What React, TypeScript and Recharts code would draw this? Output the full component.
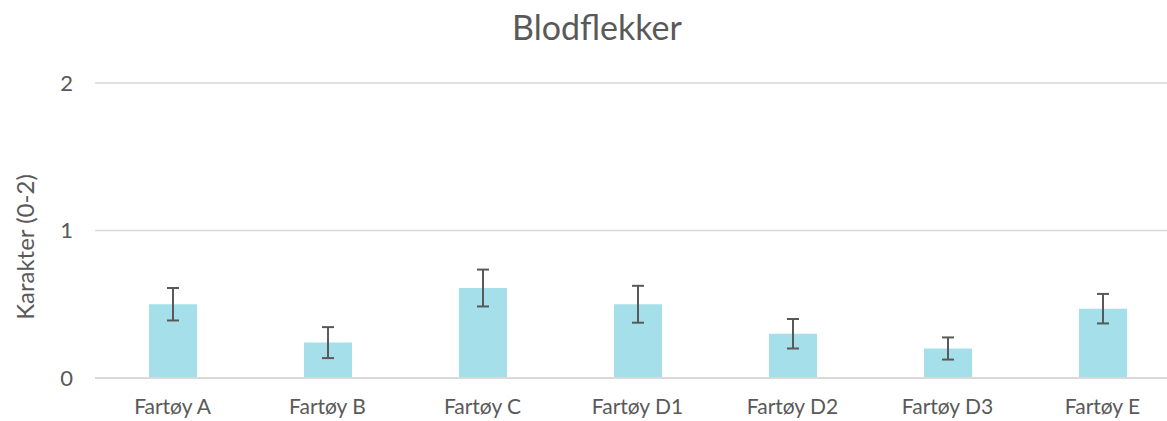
import React from "react";
import { BarChart, Bar, XAxis, YAxis, CartesianGrid, ErrorBar } from "recharts";

const categories = ["Fartøy A", "Fartøy B", "Fartøy C", "Fartøy D1", "Fartøy D2", "Fartøy D3", "Fartøy E"];
const means = [0.5, 0.24, 0.61, 0.5, 0.3, 0.2, 0.47];
const errors = [0.11, 0.105, 0.125, 0.125, 0.1, 0.075, 0.1];
const yTicks = [0, 1, 2];

const data = categories.map((name, i) => ({ name, value: means[i], err: errors[i] }));

const textColor = "#595959";
const font = "Lato, 'Open Sans', sans-serif";

export default function App() {
  return (
    <div
      style={{
        position: "absolute",
        left: 0,
        top: 0,
        width: 1167,
        height: 421,
        overflow: "hidden",
        background: "#fff",
        fontFamily: font,
      }}
    >
      <div
        style={{
          position: "absolute",
          left: 0,
          width: 1194,
          top: 6,
          textAlign: "center",
          fontSize: 34,
          color: textColor,
        }}
      >
        Blodflekker
      </div>
      <div
        style={{
          position: "absolute",
          left: 24,
          top: 247,
          transform: "translate(-50%, -50%) rotate(-90deg)",
          whiteSpace: "nowrap",
          fontSize: 24,
          color: textColor,
        }}
      >
        Karakter (0-2)
      </div>
      <BarChart
        width={1194}
        height={421}
        data={data}
        margin={{ top: 83, right: 14, left: 0, bottom: 0 }}
      >
        <CartesianGrid vertical={false} stroke="#d9d9d9" strokeWidth={1.5} />
        <XAxis
          dataKey="name"
          height={43}
          tickLine={false}
          tickSize={0}
          tickMargin={21}
          axisLine={{ stroke: "#d9d9d9", strokeWidth: 2 }}
          tick={{ fill: textColor, fontSize: 21, fontFamily: font }}
          interval={0}
        />
        <YAxis
          width={95}
          domain={[0, 2]}
          ticks={yTicks}
          axisLine={false}
          tickLine={false}
          tickSize={0}
          tickMargin={22}
          tick={{ fill: textColor, fontSize: 22, fontFamily: font }}
        />
        <Bar dataKey="value" fill="#a5dfe9" barSize={48} isAnimationActive={false}>
          <ErrorBar dataKey="err" width={6} stroke="#595959" strokeWidth={2} direction="y" />
        </Bar>
      </BarChart>
    </div>
  );
}
